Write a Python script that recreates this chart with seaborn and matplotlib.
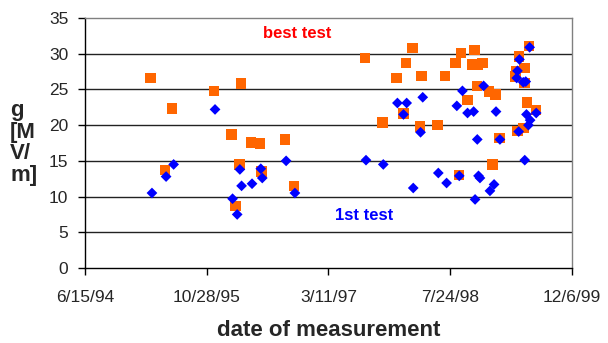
import matplotlib
matplotlib.use("Agg")
import matplotlib.pyplot as plt
import seaborn as sns
import pandas as pd

# ---- data ----
best_dates = ["1995-03-12", "1995-05-10", "1995-06-08", "1995-11-27", "1996-02-07",
              "1996-02-24", "1996-03-10", "1996-03-16", "1996-04-27", "1996-06-02",
              "1996-06-08", "1996-09-14", "1996-10-20", "1997-08-08", "1997-10-18",
              "1997-12-16", "1998-01-13", "1998-01-23", "1998-02-20", "1998-03-22",
              "1998-03-29", "1998-06-01", "1998-07-03", "1998-08-15", "1998-08-29",
              "1998-09-06", "1998-10-02", "1998-10-24", "1998-11-01", "1998-11-10",
              "1998-11-14", "1998-12-04", "1998-12-31", "1999-01-14", "1999-01-26",
              "1999-02-11", "1999-04-20", "1999-04-19", "1999-04-25", "1999-05-02",
              "1999-05-20", "1999-05-24", "1999-05-25", "1999-06-05", "1999-06-13",
              "1999-07-11"]
best_values = [26.6, 13.7, 22.3, 24.8, 18.7,
               8.7, 14.5, 25.8, 17.6, 17.4,
               13.5, 18.0, 11.5, 29.4, 20.4,
               26.6, 21.6, 28.7, 30.8, 19.8,
               26.9, 20.0, 26.9, 28.7, 13.0,
               30.1, 23.5, 28.5, 30.5, 25.5,
               28.4, 28.7, 24.7, 14.5, 24.3,
               18.2, 27.5, 26.8, 19.2, 29.6,
               19.6, 28.0, 25.9, 23.2, 31.1,
               22.1]

first_dates = ["1995-03-17", "1995-05-14", "1995-06-14", "1995-12-01", "1996-02-11",
               "1996-03-01", "1996-03-12", "1996-03-19", "1996-05-01", "1996-06-06",
               "1996-06-12", "1996-09-18", "1996-10-24", "1997-08-12", "1997-10-22",
               "1997-12-19", "1998-01-13", "1998-01-26", "1998-02-22", "1998-03-24",
               "1998-04-02", "1998-06-05", "1998-07-09", "1998-08-20", "1998-08-30",
               "1998-09-12", "1998-10-03", "1998-10-28", "1998-11-03", "1998-11-12",
               "1998-11-17", "1998-11-23", "1998-12-08", "1999-01-03", "1999-01-20",
               "1999-01-28", "1999-02-13", "1999-04-23", "1999-04-26", "1999-05-01",
               "1999-05-04", "1999-05-20", "1999-05-26", "1999-05-30", "1999-06-02",
               "1999-06-10", "1999-06-15", "1999-06-17", "1999-07-12"]
first_values = [10.5, 12.8, 14.5, 22.2, 9.7,
                7.5, 13.8, 11.5, 11.8, 13.9,
                12.6, 15.0, 10.5, 15.1, 14.5,
                23.1, 21.5, 23.1, 11.2, 19.0,
                23.9, 13.3, 11.9, 22.7, 12.9,
                24.8, 21.7, 21.9, 9.6, 18.0,
                12.9, 12.6, 25.5, 10.8, 11.7,
                21.9, 18.0, 26.6, 27.6, 19.1,
                29.2, 26.0, 15.1, 26.1, 21.5,
                20.0, 30.9, 20.7, 21.7]

x_tick_dates = ["1994-06-15", "1995-10-28", "1997-03-11", "1998-07-24", "1999-12-06"]
x_tick_labels = ["6/15/94", "10/28/95", "3/11/97", "7/24/98", "12/6/99"]
y_ticks = [0, 5, 10, 15, 20, 25, 30, 35]

best_df = pd.DataFrame({"date": pd.to_datetime(best_dates), "g": best_values})
first_df = pd.DataFrame({"date": pd.to_datetime(first_dates), "g": first_values})

# ---- style ----
sns.set_style("white")
plt.rcParams["font.family"] = ["Liberation Sans", "DejaVu Sans"]

fig = plt.figure(figsize=(6.08, 3.43), dpi=100)
ax = fig.add_axes([85 / 608, 1 - 268 / 343, (572 - 85) / 608, (268 - 18) / 343])

sns.scatterplot(data=best_df, x="date", y="g", ax=ax, marker="s", s=58,
                color="#FF6600", edgecolor="none", linewidth=0, zorder=3)
sns.scatterplot(data=first_df, x="date", y="g", ax=ax, marker="D", s=30,
                color="#0000FF", edgecolor="none", linewidth=0, zorder=4)

xt = pd.to_datetime(x_tick_dates)
ax.set_xlim(xt[0], xt[-1])
ax.set_ylim(y_ticks[0], y_ticks[-1])
ax.set_xticks(xt)
ax.set_xticklabels(x_tick_labels)
ax.set_yticks(y_ticks)
ax.set_yticklabels([str(v) for v in y_ticks])

for yv in y_ticks[1:-1]:
    ax.axhline(yv, color="#222222", lw=1.0, zorder=1)

ax.spines["left"].set_color("black")
ax.spines["bottom"].set_color("black")
ax.spines["top"].set_color("#808080")
ax.spines["right"].set_color("#808080")
for s in ax.spines.values():
    s.set_linewidth(1.0)

ax.tick_params(axis="x", which="major", bottom=True, direction="out", length=5,
               width=1, color="black", labelsize=12.5, pad=11)
ax.tick_params(axis="y", which="major", left=True, direction="out", length=5,
               width=1, color="black", labelsize=12.5, pad=7)
ax.set_xlabel("")
ax.set_ylabel("")

fig.text(329 / 608, 1 - 330 / 343, "date of measurement", ha="center", va="center",
         fontsize=16, fontweight="bold")
fig.text(10 / 608, 1 - 143 / 343, "g\n[M\nV/\nm]", ha="left", va="center",
         fontsize=16, fontweight="bold", linespacing=1.05)

ax.text(pd.Timestamp("1996-06-15"), 32.8, "best test", color="#FF0000",
        fontsize=12, fontweight="bold", ha="left", va="center")
ax.text(pd.Timestamp("1997-04-07"), 7.4, "1st test", color="#0000FF",
        fontsize=12, fontweight="bold", ha="left", va="center")

fig.savefig("out.png", dpi=100)
